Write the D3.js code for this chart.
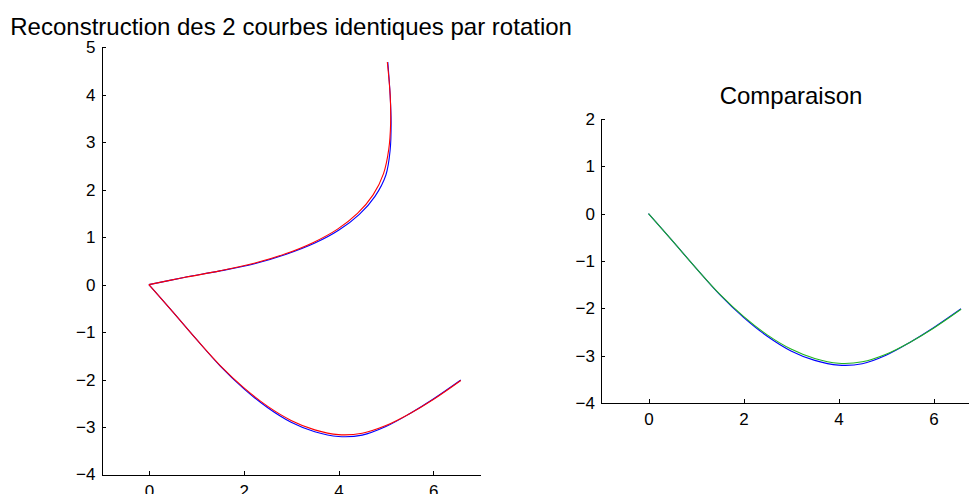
<!DOCTYPE html>
<html>
<head>
<meta charset="utf-8">
<script src="https://cdn.jsdelivr.net/npm/d3@7"></script>
<style>
  body { margin: 0; background: #fff; }
  svg { display: block; font-family: "Liberation Sans", Arial, Helvetica, sans-serif; }
  .axis path, .axis line { stroke: #000; shape-rendering: crispEdges; }
  .axis text { font-size: 17px; fill: #000; }
</style>
</head>
<body>
<div id="chart-area"></div>
<script>
// curve: original (bottom) curve, blue and red versions
const lowerBlue = [[0,0],[0.5,-0.57],[1.0,-1.15],[1.5,-1.71],[2.0,-2.19],[2.5,-2.59],[3.0,-2.9],[3.5,-3.1],[4.0,-3.2],[4.5,-3.17],[5.0,-2.99],[5.5,-2.72],[6.0,-2.41],[6.58,-2.01]]
const lowerRed = [[0,0],[0.5,-0.57],[1.0,-1.15],[1.5,-1.7],[2.0,-2.17],[2.5,-2.56],[3.0,-2.86],[3.5,-3.06],[4.0,-3.16],[4.5,-3.13],[5.0,-2.97],[5.5,-2.72],[6.0,-2.42],[6.58,-2.02]]

// rotated (upper) curve
const upperBlue = [[0,0],[0.74,0.15],[1.5,0.29],[2.23,0.44],[2.9,0.64],[3.49,0.87],[4.01,1.15],[4.44,1.48],[4.77,1.86],[5.0,2.31],[5.09,2.84],[5.11,3.4],[5.09,3.99],[5.04,4.69]]
const upperRed = [[0,0],[0.74,0.15],[1.5,0.29],[2.22,0.45],[2.88,0.65],[3.47,0.89],[3.98,1.17],[4.4,1.5],[4.73,1.89],[4.95,2.34],[5.06,2.85],[5.1,3.4],[5.09,3.99],[5.03,4.69]]

// comparison plot: blue original vs green (red curve rotated back)
const compareBlue = lowerBlue
const compareGreen = lowerRed

const xTicks = [0, 2, 4, 6]
const leftYTicks = [-4, -3, -2, -1, 0, 1, 2, 3, 4, 5]
const rightYTicks = [-4, -3, -2, -1, 0, 1, 2]

const titleLeft = "Reconstruction des 2 courbes identiques par rotation"
const titleRight = "Comparaison"

const W = 969, H = 494

const svg = d3.select("#chart-area").append("svg")
  .attr("width", W)
  .attr("height", H)

const fmt = d3.format("d")

function panel(opts) {
  const x = d3.scaleLinear().domain(opts.xDomain).range(opts.xRange)
  const y = d3.scaleLinear().domain(opts.yDomain).range(opts.yRange)

  const g = svg.append("g")

  g.append("g")
    .attr("class", "axis")
    .attr("transform", `translate(0, ${opts.yRange[0]})`)
    .call(d3.axisBottom(x).tickValues(xTicks).tickFormat(fmt)
      .tickSizeInner(-4).tickSizeOuter(0).tickPadding(10))

  g.append("g")
    .attr("class", "axis")
    .attr("transform", `translate(${opts.xRange[0]}, 0)`)
    .call(d3.axisLeft(y).tickValues(opts.yTicks).tickFormat(fmt)
      .tickSizeInner(-4).tickSizeOuter(0).tickPadding(6))

  const line = d3.line()
    .x(d => x(d[0]))
    .y(d => y(d[1]))
    .curve(d3.curveCatmullRom.alpha(0.5))

  opts.series.forEach(s => {
    g.append("path")
      .attr("fill", "none")
      .attr("stroke", s.color)
      .attr("stroke-width", 1.1)
      .attr("d", line(s.data))
  })

  g.append("text")
    .attr("x", (opts.xRange[0] + x(7)) / 2)
    .attr("y", opts.titleY)
    .attr("text-anchor", "middle")
    .attr("font-size", "24px")
    .attr("fill", "#000")
    .text(opts.title)
}

panel({
  xDomain: [-1, 7], xRange: [101.5, 480.7],
  yDomain: [-4, 5], yRange: [474.5, 47.3],
  yTicks: leftYTicks,
  title: titleLeft, titleY: 35,
  series: [
    { data: upperBlue, color: "#0000ff" },
    { data: lowerBlue, color: "#0000ff" },
    { data: upperRed, color: "#ff0000" },
    { data: lowerRed, color: "#ff0000" }
  ]
})

panel({
  xDomain: [-1, 7], xRange: [601, 981],
  yDomain: [-4, 2], yRange: [403, 119],
  yTicks: rightYTicks,
  title: titleRight, titleY: 104,
  series: [
    { data: compareBlue, color: "#0000ff" },
    { data: compareGreen, color: "#1fb51f" }
  ]
})
</script>
</body>
</html>
